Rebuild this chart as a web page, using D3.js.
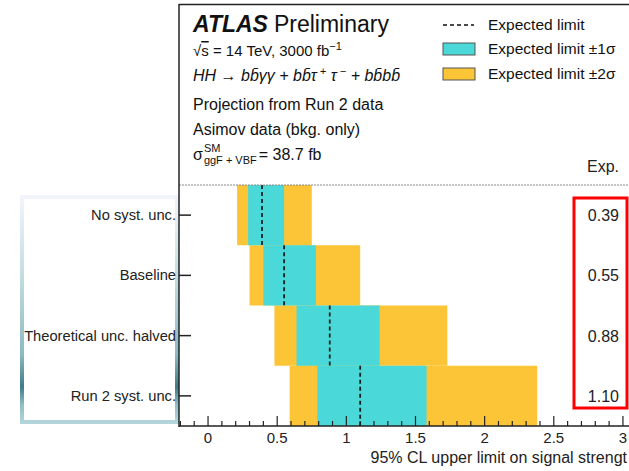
<!DOCTYPE html>
<html>
<head>
<meta charset="utf-8">
<script src="https://cdn.jsdelivr.net/npm/d3@7"></script>
<style>
  body { margin: 0; background: #fff; }
  svg { display: block; font-family: "Liberation Sans", Arial, sans-serif; }
</style>
</head>
<body>
<div id="chart"></div>
<script>
// values
const categories = ["No syst. unc.", "Baseline", "Theoretical unc. halved", "Run 2 syst. unc."];
const expected = [0.39, 0.55, 0.88, 1.10];
const minus2 = [0.21, 0.30, 0.48, 0.59];
const minus1 = [0.29, 0.40, 0.64, 0.79];
const plus1 = [0.55, 0.78, 1.24, 1.58];
const plus2 = [0.75, 1.10, 1.73, 2.38];
const expLabels = ["0.39", "0.55", "0.88", "1.10"];
const majorTicks = [0, 0.5, 1, 1.5, 2, 2.5, 3];
const legendItems = ["Expected limit", "Expected limit \u00b11\u03c3", "Expected limit \u00b12\u03c3"];

const W = 629, H = 471;
const rows = categories.map((c, i) => ({
  cat: c, exp: expected[i], m2: minus2[i], m1: minus1[i], p1: plus1[i], p2: plus2[i], lab: expLabels[i]
}));

const svg = d3.select("#chart").append("svg").attr("width", W).attr("height", H);

const x = d3.scaleLinear().domain([-0.21, 3.15]).range([179, 179 + 3.36 * 138.3]);
const y = d3.scaleBand().domain(categories).range([185, 426]).padding(0);

// highlight box round the category labels
const defs = svg.append("defs");
const grad = defs.append("linearGradient").attr("id", "boxgrad")
  .attr("gradientUnits", "userSpaceOnUse").attr("x1", 0).attr("x2", 0).attr("y1", 197).attr("y2", 423);
[[0, "#f1f5fb"], [0.35, "#c3dce1"], [0.7, "#8bb9c0"], [0.84, "#3f7c85"], [0.92, "#8fbec5"], [1, "#b3d6da"]]
  .forEach(([o, c]) => grad.append("stop").attr("offset", o).attr("stop-color", c));
svg.append("rect").attr("x", 22).attr("y", 197).attr("width", 155).attr("height", 225)
  .attr("fill", "#fff").attr("stroke", "url(#boxgrad)").attr("stroke-width", 4);

// bands
const g = svg.append("g");
g.selectAll(".b2").data(rows).join("rect")
  .attr("x", d => x(d.m2)).attr("width", d => x(d.p2) - x(d.m2))
  .attr("y", d => y(d.cat)).attr("height", y.bandwidth())
  .attr("fill", "#fbc537");
g.selectAll(".b1").data(rows).join("rect")
  .attr("x", d => x(d.m1)).attr("width", d => x(d.p1) - x(d.m1))
  .attr("y", d => y(d.cat)).attr("height", y.bandwidth())
  .attr("fill", "#4ad9d8");
g.selectAll(".med").data(rows).join("line")
  .attr("x1", d => x(d.exp)).attr("x2", d => x(d.exp))
  .attr("y1", d => y(d.cat)).attr("y2", d => y(d.cat) + y.bandwidth())
  .attr("stroke", "#122222").attr("stroke-width", 1.8).attr("stroke-dasharray", "4,3");

// frame + separator
svg.append("line").attr("x1", 179).attr("x2", W).attr("y1", 4.5).attr("y2", 4.5)
  .attr("stroke", "#222").attr("stroke-width", 1.5);
svg.append("line").attr("x1", 179).attr("x2", W).attr("y1", 185).attr("y2", 185)
  .attr("stroke", "#888").attr("stroke-width", 1).attr("stroke-dasharray", "2,1");

// x axis, ticks pointing up
const xAxis = svg.append("g").attr("transform", "translate(0,426)");
xAxis.append("line").attr("x1", 179).attr("x2", W).attr("stroke", "#222").attr("stroke-width", 1.5);
xAxis.selectAll(".minor").data(d3.range(-2, 32).map(v => v / 10)).join("line")
  .attr("x1", d => x(d)).attr("x2", d => x(d)).attr("y1", 0)
  .attr("y2", d => (Math.abs(d * 2 - Math.round(d * 2)) < 1e-6 ? -10 : -5))
  .attr("stroke", "#222").attr("stroke-width", 1.2);
xAxis.selectAll(".tl").data(majorTicks).join("text")
  .attr("x", d => x(d)).attr("y", 17).attr("text-anchor", "middle")
  .attr("font-size", 15).attr("fill", "#222").text(d => d3.format("")(d));
// the reference crops this title at the right edge
svg.append("text").attr("x", 627).attr("y", 463).attr("text-anchor", "end")
  .attr("font-size", 16).attr("fill", "#222").text("95% CL upper limit on signal strengt");

// y axis, ticks pointing right
const yAxis = svg.append("g");
yAxis.append("line").attr("x1", 179).attr("x2", 179).attr("y1", 4).attr("y2", 427)
  .attr("stroke", "#222").attr("stroke-width", 1.5);
yAxis.selectAll(".yt").data(categories).join("line")
  .attr("x1", 179).attr("x2", 191)
  .attr("y1", d => y(d) + y.bandwidth() / 2).attr("y2", d => y(d) + y.bandwidth() / 2)
  .attr("stroke", "#222").attr("stroke-width", 1.5);
yAxis.selectAll(".yl").data(categories).join("text")
  .attr("x", 176).attr("y", d => y(d) + y.bandwidth() / 2 + 5).attr("text-anchor", "end")
  .attr("font-size", 14.7).attr("fill", "#222").text(d => d);

// Exp. column
svg.append("text").attr("x", 603).attr("y", 172).attr("text-anchor", "middle")
  .attr("font-size", 16).attr("fill", "#222").text("Exp.");
svg.selectAll(".ev").data(rows).join("text")
  .attr("x", 619).attr("y", d => y(d.cat) + y.bandwidth() / 2 + 6).attr("text-anchor", "end")
  .attr("font-size", 16).attr("fill", "#222").text(d => d.lab);
svg.append("rect").attr("x", 574).attr("y", 198).attr("width", 53).attr("height", 210)
  .attr("fill", "none").attr("stroke", "#f00").attr("stroke-width", 3);

// header text
const hx = 193;
const t1 = svg.append("text").attr("x", hx).attr("y", 32).attr("font-size", 23).attr("fill", "#111");
t1.append("tspan").attr("font-weight", "bold").attr("font-style", "italic").text("ATLAS");
t1.append("tspan").attr("dx", 6).text("Preliminary");

const t2 = svg.append("text").attr("x", hx).attr("y", 56).attr("font-size", 15).attr("fill", "#111");
t2.append("tspan").text("\u221a");
t2.append("tspan").style("text-decoration", "overline").text("s");
t2.append("tspan").text(" = 14 TeV, 3000 fb");
t2.append("tspan").attr("dy", -6).attr("font-size", 11).text("\u22121");

const t3 = svg.append("text").attr("x", hx).attr("y", 81).attr("font-size", 16).attr("fill", "#111")
  .attr("font-style", "italic");
t3.append("tspan").text("HH \u2192 bb\u0304\u03b3\u03b3 + bb\u0304\u03c4");
t3.append("tspan").attr("dy", -6).attr("font-size", 11).text(" +");
t3.append("tspan").attr("dy", 6).text(" \u03c4");
t3.append("tspan").attr("dy", -6).attr("font-size", 11).text(" \u2212");
t3.append("tspan").attr("dy", 6).text("  + bb\u0304bb\u0304");

svg.append("text").attr("x", hx).attr("y", 110).attr("font-size", 16).attr("fill", "#111")
  .text("Projection from Run 2 data");
svg.append("text").attr("x", hx).attr("y", 135).attr("font-size", 16).attr("fill", "#111")
  .text("Asimov data (bkg. only)");

const sig = svg.append("text").attr("x", hx).attr("y", 160).attr("font-size", 16).attr("fill", "#111").text("\u03c3");
const sx = hx + sig.node().getComputedTextLength() + 1;
svg.append("text").attr("x", sx).attr("y", 152).attr("font-size", 11).attr("fill", "#111").text("SM");
const sub = svg.append("text").attr("x", sx).attr("y", 164).attr("font-size", 11).attr("fill", "#111").text("ggF + VBF");
svg.append("text").attr("x", sx + sub.node().getComputedTextLength() + 2).attr("y", 160)
  .attr("font-size", 16).attr("fill", "#111").text("= 38.7 fb");

// legend
const leg = svg.append("g");
const ly = [25, 49, 74];
leg.append("line").attr("x1", 443).attr("x2", 474).attr("y1", ly[0]).attr("y2", ly[0])
  .attr("stroke", "#111").attr("stroke-width", 1.3).attr("stroke-dasharray", "4,3");
leg.append("rect").attr("x", 443).attr("y", ly[1] - 6).attr("width", 32).attr("height", 12)
  .attr("fill", "#4ad9d8").attr("stroke", "#555").attr("stroke-width", 1);
leg.append("rect").attr("x", 443).attr("y", ly[2] - 6).attr("width", 32).attr("height", 12)
  .attr("fill", "#fbc537").attr("stroke", "#555").attr("stroke-width", 1);
leg.selectAll(".lt").data(legendItems).join("text")
  .attr("x", 488).attr("y", (d, i) => ly[i] + 5).attr("font-size", 15.5).attr("fill", "#111").text(d => d);
</script>
</body>
</html>
